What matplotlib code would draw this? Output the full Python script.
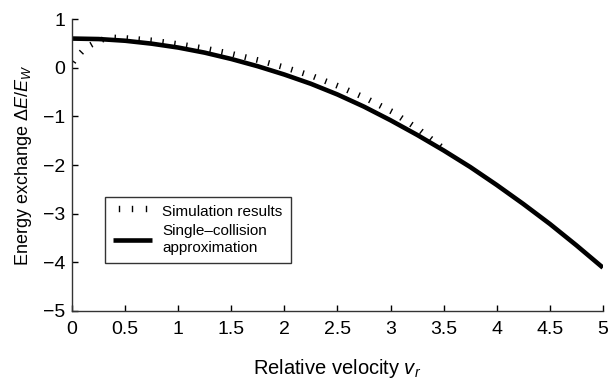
import numpy as np
import matplotlib
matplotlib.use("Agg")
import matplotlib.pyplot as plt
from matplotlib import patheffects

plt.rcParams["font.family"] = ["Liberation Sans", "DejaVu Sans"]
plt.rcParams["mathtext.fontset"] = "custom"
plt.rcParams["mathtext.rm"] = "Liberation Sans"
plt.rcParams["mathtext.it"] = "Liberation Sans:italic"

# single-collision approximation
approx_x = [0, 0.25, 0.5, 0.75, 1.0, 1.25, 1.5, 1.75, 2.0, 2.25, 2.5,
            2.75, 3.0, 3.25, 3.5, 3.75, 4.0, 4.25, 4.5, 4.75, 5.0]
approx_y = [0.60, 0.59, 0.555, 0.495, 0.415, 0.31, 0.18, 0.03, -0.14, -0.33,
            -0.55, -0.80, -1.08, -1.38, -1.70, -2.04, -2.41, -2.80, -3.21, -3.65, -4.11]

# simulation results (past ~3.5 they vanish under the thick curve)
sim_x = [0, 0.06, 0.14, 0.23, 0.3, 0.4, 0.5, 0.75, 1.0, 1.25, 1.5, 1.75,
         2.0, 2.25, 2.5, 2.75, 3.0, 3.25, 3.5]
sim_y = [0.0, 0.19, 0.37, 0.48, 0.54, 0.575, 0.565, 0.515, 0.44, 0.35, 0.24, 0.11,
         -0.04, -0.21, -0.42, -0.66, -0.94, -1.30, -1.72]

xticks = [0, 0.5, 1, 1.5, 2, 2.5, 3, 3.5, 4, 4.5, 5]
xticklabels = ["0", "0.5", "1", "1.5", "2", "2.5", "3", "3.5", "4", "4.5", "5"]
yticks = [-5, -4, -3, -2, -1, 0, 1]
yticklabels = ["\u22125", "\u22124", "\u22123", "\u22122", "\u22121", "0", "1"]

fig = plt.figure(figsize=(6.13, 3.82), dpi=100)
ax = fig.add_axes([0.1175, 0.186, 0.866, 0.764])

ax.plot(sim_x, sim_y, color="black", lw=1.0, label="Simulation results",
        path_effects=[patheffects.TickedStroke(spacing=8.5, angle=90, length=0.38)])
ax.plot(approx_x, approx_y, color="black", lw=3.3, solid_capstyle="butt",
        label="Single\u2013collision\napproximation")

ax.set_xlim(0, 5)
ax.set_ylim(-5, 1)
ax.set_xticks(xticks)
ax.set_xticklabels(xticklabels)
ax.set_yticks(yticks)
ax.set_yticklabels(yticklabels)
ax.tick_params(direction="in", length=4, width=1, labelsize=14, colors="black")
ax.tick_params(axis="x", pad=7)
ax.tick_params(axis="y", pad=5)
for s in ["top", "right"]:
    ax.spines[s].set_visible(False)
for s in ["left", "bottom"]:
    ax.spines[s].set_linewidth(1.0)
    ax.spines[s].set_color("#333333")

ax.set_xlabel("Relative velocity $v_r$", fontsize=14.5, labelpad=14)
ax.set_ylabel("Energy exchange $\\Delta E/E_W$", fontsize=13, labelpad=6)

leg = ax.legend(loc="lower left", bbox_to_anchor=(0.062, 0.164), borderaxespad=0,
                fontsize=11, frameon=True, fancybox=False, handlelength=2.5,
                handletextpad=0.7, borderpad=0.55, labelspacing=0.35)
leg.get_frame().set_edgecolor("black")
leg.get_frame().set_linewidth(1.0)

fig.savefig("out.png", dpi=100)
